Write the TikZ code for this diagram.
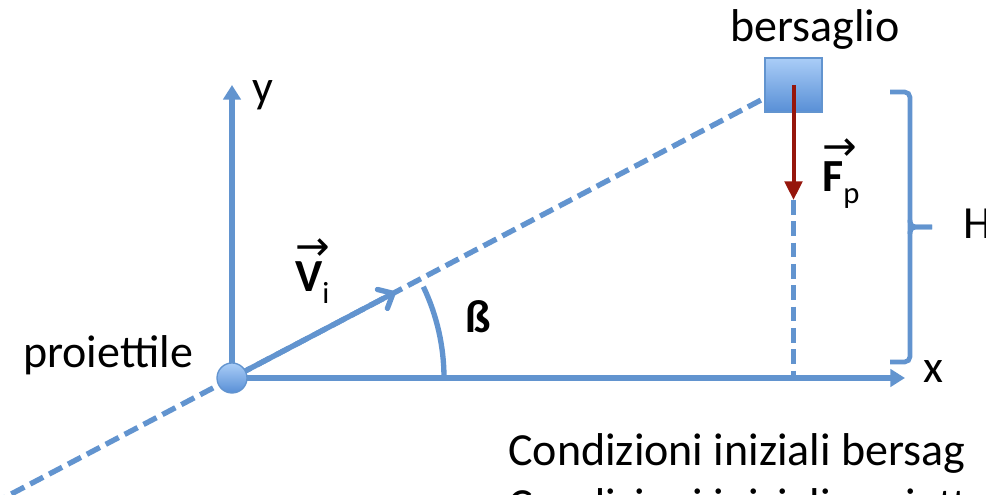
\documentclass[tikz,border=0pt]{standalone}
\usepackage{fontspec}
\setmainfont{Carlito}
\newfontfamily\arrowfont{DejaVu Sans}
\usetikzlibrary{arrows.meta,positioning,calc}
\definecolor{axisblue}{RGB}{98,148,207}
\definecolor{boxtop}{RGB}{170,205,247}
\definecolor{boxbottom}{RGB}{88,143,214}
\definecolor{forcered}{RGB}{150,22,12}
\tikzset{
	axis/.style={draw=axisblue, line width=4pt, -{Triangle[length=11pt, width=13pt]}},
	dashedline/.style={draw=axisblue, line width=4pt, dash pattern=on 11pt off 5pt},
	velarrow/.style={draw=axisblue, line width=4pt, -{Straight Barb[length=9pt, width=16pt, round]}},
	weight/.style={draw=forcered, line width=3pt, -{Triangle[length=14pt, width=13pt]}},
	anglearc/.style={draw=axisblue, line width=4pt},
	hbrace/.style={draw=axisblue, line width=3.5pt, rounded corners=4pt},
	dot/.style={circle, minimum size=22.5pt, inner sep=0pt, top color=boxtop,
		bottom color=boxbottom, draw=axisblue, line width=1pt},
	targetbox/.style={rectangle, inner sep=0pt, top color=boxtop, bottom color=boxbottom,
		draw=axisblue, line width=1pt}
}
\newcommand{\vecsub}[2]{\rlap{\raisebox{23.5pt}{\fontsize{31}{31}\arrowfont →}}\textbf{#1}\raisebox{-9pt}{\fontsize{23}{23}\selectfont #2}}

\begin{document}
\begin{tikzpicture}[x=0.75pt, y=0.75pt,
	lbl/.style={font=\fontsize{34.5}{41.4}\selectfont, inner sep=0pt, anchor=base west},
	]
	\useasboundingbox (-232,-117) rectangle (754,378);
	\clip (-232,-117) rectangle (754,378);
	
	%% -- Key points
	\coordinate (O) at (0,0);
	\node[targetbox, minimum width=42.75pt, minimum height=40.5pt] (target) at (561.5,293) {};
	\coordinate (aim) at ($(target.south west)!0.26!(target.north west)$);
	\coordinate (tail) at ($(O)!-0.45!(aim)$);
	
	%% -- Line of sight
	\draw[dashedline] (tail) -- (aim);
	
	%% -- Axes
	\coordinate (ytip) at (0,293);
	\coordinate (xtip) at (673,0);
	\coordinate (ftip) at ($(target.center)+(0,-115)$);
	\draw[dashedline] (ftip) -- (ftip |- O);
	\draw[axis] (O) -- (ytip);
	\draw[axis] (O) -- (xtip);
	
	%% -- Initial velocity and angle
	\coordinate (vtip) at ($(O)!0.307!(aim)$);
	\draw[velarrow] (O) -- (vtip);
	\draw[anglearc] ($(O)+(212,0)$) arc[start angle=0, end angle=25.5, radius=159pt];
	
	%% -- Projectile
	\node[dot] (proj) at (O) {};
	
	%% -- Weight of the target
	\draw[weight] (target.center) -- (ftip);
	
	%% -- Height brace
	\coordinate (htop) at (658,286);
	\coordinate (hbot) at (658,16);
	\coordinate (hmid) at (700,151);
	\draw[hbrace] (htop) -| ($(hbot)+(20,0)$) -- (hbot);
	\draw[hbrace] ($(hmid)+(-22,7)$) |- (hmid);
	\draw[hbrace] ($(hmid)+(-22,-7)$) |- (hmid);
	
	%% -- Labels
	\node[lbl] (ylab) at (20,275) {y};
	\node[lbl] (xlab) at (691,-5) {x};
	\node[lbl] (hlab) at (731,139) {H};
	\node[lbl] (tlab) at (498,336) {bersaglio};
	\node[lbl] (plab) at (-209,10) {proiettile};
	\node[lbl] (vlab) at (63,86) {\vecsub{V}{i}};
	\node[lbl] (flab) at (590,186) {\vecsub{F}{p}};
	\node[lbl] (blab) at (233,45) {\textbf{ß}};
	
	%% -- Initial conditions
	\node[lbl] (cond1) at (276,-88) {Condizioni iniziali bersag};
	\node[lbl] (cond2) at ($(cond1.base west)+(0,-55)$) {Condizioni iniziali proiett};
	
\end{tikzpicture}
\end{document}
